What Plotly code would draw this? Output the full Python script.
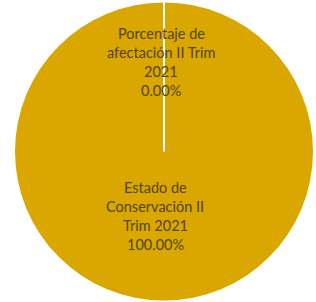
import plotly.graph_objects as go

labels = ["Porcentaje de afectación II Trim 2021", "Estado de Conservación II Trim 2021"]
values = [0.0, 100.0]
label_lines = [["Porcentaje de", "afectación II Trim", "2021"],
               ["Estado de", "Conservación II", "Trim 2021"]]

total = sum(values)
W, H = 316, 302
cx, cy, r = 164, 151.5, 149

dom_x = [(cx - r) / W, (cx + r) / W]
dom_y = [(H - cy - r) / H, (H - cy + r) / H]

fig = go.Figure(go.Pie(
    labels=labels, values=values, sort=False, direction="clockwise", rotation=0,
    marker=dict(colors=["#D9A700", "#D9A700"], line=dict(color="white", width=0)),
    textinfo="none", hoverinfo="label+percent", showlegend=False,
    domain=dict(x=dom_x, y=dom_y),
))

# slice boundary at 12 o'clock (zero-width slice edge)
fig.add_shape(type="line", xref="paper", yref="paper",
              x0=(dom_x[0] + dom_x[1]) / 2, x1=(dom_x[0] + dom_x[1]) / 2,
              y0=(dom_y[0] + dom_y[1]) / 2, y1=dom_y[1],
              line=dict(color="white", width=2))

anchors = [(161, 33), (155, 187)]
annotations = []
for i, (lines, (ax, ay)) in enumerate(zip(label_lines, anchors)):
    pct = f"{values[i] / total * 100:.2f}%"
    for j, t in enumerate(lines + [pct]):
        annotations.append(dict(
            x=ax / W, y=1 - (ay + 19.2 * j) / H, xref="paper", yref="paper",
            text=t, showarrow=False, xanchor="center", yanchor="middle",
            font=dict(family="Lato", size=14.5, color="#54430f"),
        ))

fig.update_layout(
    width=W, height=H, margin=dict(l=0, r=0, t=0, b=0),
    paper_bgcolor="white", plot_bgcolor="white",
    annotations=annotations,
)
fig.write_html("out.html", config={"displayModeBar": False},
               post_script="document.body.style.margin='0';")
